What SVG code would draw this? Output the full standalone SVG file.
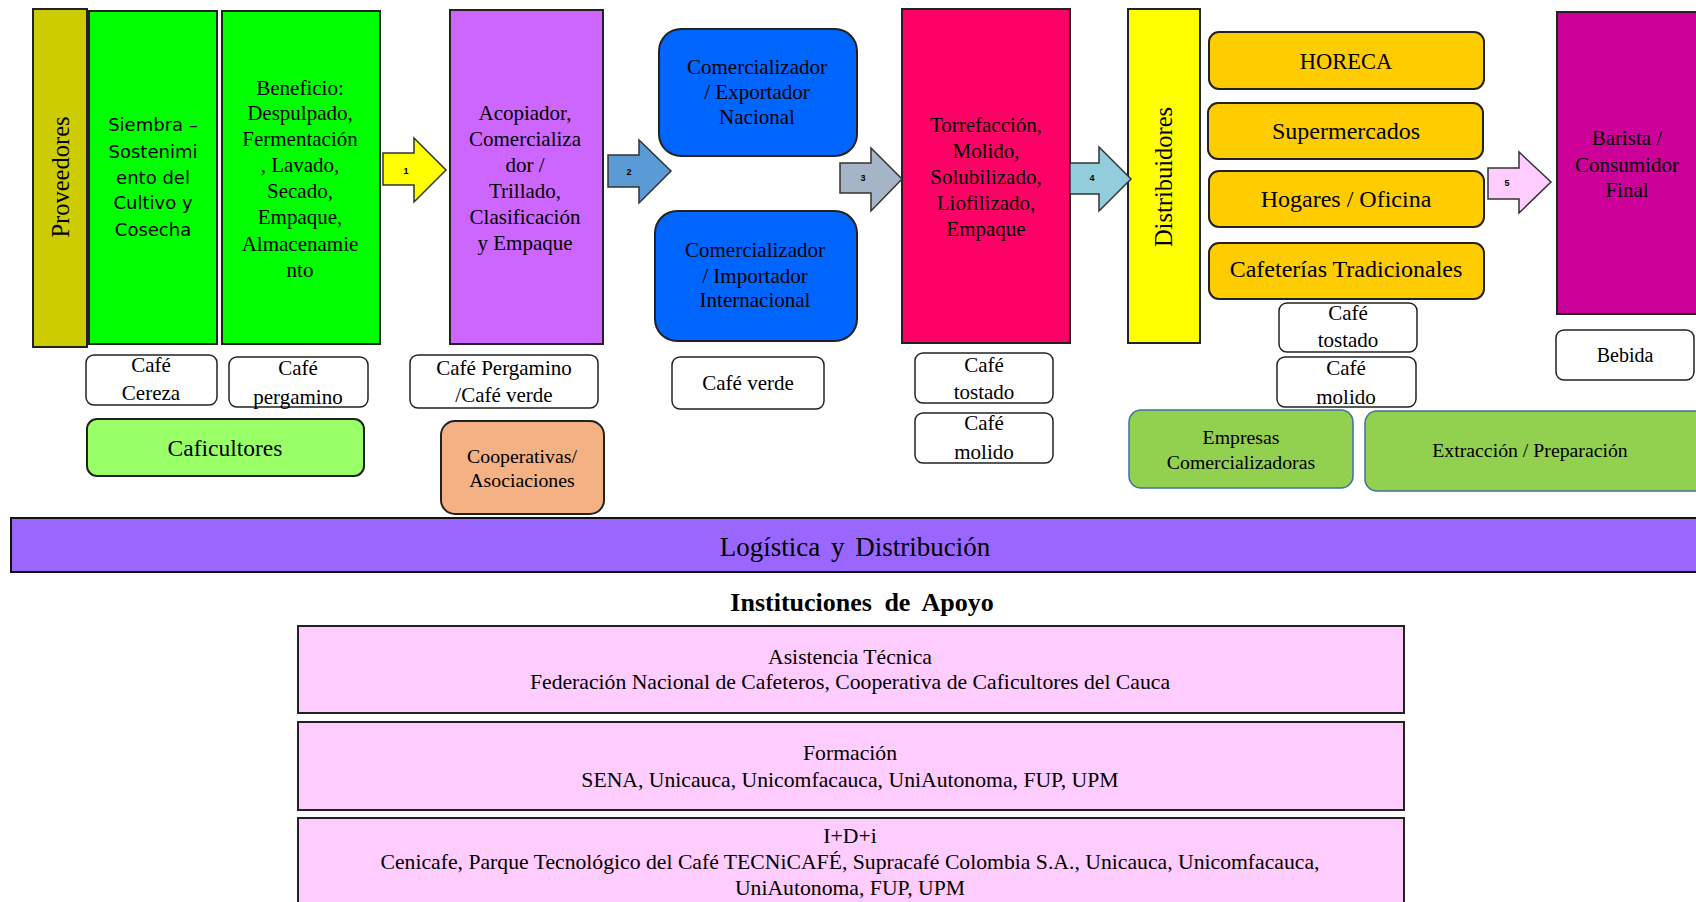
<svg xmlns="http://www.w3.org/2000/svg" width="1696" height="902" viewBox="0 0 1696 902">
<style>
.box{stroke:#222;stroke-width:2}
.pill{fill:#fff;stroke:#222;stroke-width:1.5}
.t{font-family:"Liberation Serif","Times New Roman",serif;font-size:21px;text-anchor:middle;fill:#000}
.s{font-family:"DejaVu Sans",Verdana,sans-serif;font-size:18px;text-anchor:middle;fill:#000}
.p{font-family:"Liberation Serif","Times New Roman",serif;font-size:21px;text-anchor:middle;fill:#000}
.m{font-family:"Liberation Serif","Times New Roman",serif;font-size:19.8px;text-anchor:middle;fill:#000}
.b{font-family:"Liberation Serif","Times New Roman",serif;font-size:21.7px;text-anchor:middle;fill:#000}
.v{font-family:"Liberation Serif","Times New Roman",serif;font-size:24.5px;text-anchor:middle;fill:#000}
.y{font-family:"Liberation Serif","Times New Roman",serif;font-size:24px;text-anchor:middle;fill:#000}
.arr{stroke:#333;stroke-width:1.5}
.n{font-family:"Liberation Sans",Arial,sans-serif;font-size:9px;font-weight:bold;text-anchor:middle;fill:#000}
.inst{fill:#FFCCFF;stroke:#222;stroke-width:2}
</style>

<g id="proveedores">
<rect class="box" x="33" y="9" width="54" height="338" fill="#CCCC00"/>
<text class="v" transform="translate(69,177) rotate(-90)">Proveedores</text>
</g>

<g id="siembra">
<rect class="box" x="89" y="11" width="128" height="333" fill="#00FF00"/>
<text class="s" x="153" y="131">Siembra –</text>
<text class="s" x="153" y="158">Sostenimi</text>
<text class="s" x="153" y="184">ento del</text>
<text class="s" x="153" y="209">Cultivo y</text>
<text class="s" x="153" y="236">Cosecha</text>
</g>

<g id="beneficio">
<rect class="box" x="222" y="11" width="158" height="333" fill="#00FF00"/>
<text class="t" x="300" y="95">Beneficio:</text>
<text class="t" x="300" y="120">Despulpado,</text>
<text class="t" x="300" y="146">Fermentación</text>
<text class="t" x="300" y="172">, Lavado,</text>
<text class="t" x="300" y="198">Secado,</text>
<text class="t" x="300" y="224">Empaque,</text>
<text class="t" x="300" y="251">Almacenamie</text>
<text class="t" x="300" y="277">nto</text>
</g>

<g id="acopiador">
<rect class="box" x="450" y="10" width="153" height="334" fill="#CC66FF"/>
<text class="t" x="525" y="120">Acopiador,</text>
<text class="t" x="525" y="146">Comercializa</text>
<text class="t" x="525" y="172">dor /</text>
<text class="t" x="525" y="198">Trillado,</text>
<text class="t" x="525" y="224">Clasificación</text>
<text class="t" x="525" y="250">y Empaque</text>
</g>

<g id="exportador">
<rect class="box" x="659" y="29" width="198" height="127" rx="22" fill="#0066FF"/>
<text class="t" x="757" y="74">Comercializador</text>
<text class="t" x="757" y="99">/ Exportador</text>
<text class="t" x="757" y="124">Nacional</text>
</g>

<g id="importador">
<rect class="box" x="655" y="211" width="202" height="130" rx="22" fill="#0066FF"/>
<text class="t" x="755" y="257">Comercializador</text>
<text class="t" x="755" y="283">/ Importador</text>
<text class="t" x="755" y="307">Internacional</text>
</g>

<g id="torrefaccion">
<rect class="box" x="902" y="9" width="168" height="334" fill="#FF0066"/>
<text class="t" x="986" y="132">Torrefacción,</text>
<text class="t" x="986" y="158">Molido,</text>
<text class="t" x="986" y="184">Solubilizado,</text>
<text class="t" x="986" y="210">Liofilizado,</text>
<text class="t" x="986" y="236">Empaque</text>
</g>

<g id="distribuidores">
<rect class="box" x="1128" y="9" width="72" height="334" fill="#FFFF00"/>
<text class="v" transform="translate(1172,177) rotate(-90)">Distribuidores</text>
</g>

<g id="horeca">
<rect class="box" x="1209" y="32" width="275" height="57" rx="10" fill="#FFCC00"/>
<text class="y" x="1346" y="69" style="font-size:22.5px">HORECA</text>
</g>
<g id="supermercados">
<rect class="box" x="1208" y="103" width="275" height="56" rx="10" fill="#FFCC00"/>
<text class="y" x="1346" y="139">Supermercados</text>
</g>
<g id="hogares">
<rect class="box" x="1209" y="171" width="275" height="56" rx="10" fill="#FFCC00"/>
<text class="y" x="1346" y="207">Hogares / Oficina</text>
</g>
<g id="cafeterias">
<rect class="box" x="1209" y="243" width="275" height="56" rx="10" fill="#FFCC00"/>
<text class="y" x="1346" y="277">Cafeterías Tradicionales</text>
</g>

<g id="barista">
<rect class="box" x="1557" y="12" width="150" height="302" fill="#CC0099"/>
<text class="t" x="1627" y="145">Barista /</text>
<text class="t" x="1627" y="172">Consumidor</text>
<text class="t" x="1627" y="197">Final</text>
</g>

<g id="cafe-cereza">
<rect class="pill" x="86" y="355" width="131" height="50" rx="8"/>
<text class="p" x="151" y="372">Café</text>
<text class="p" x="151" y="400">Cereza</text>
</g>
<g id="cafe-pergamino">
<rect class="pill" x="229" y="357" width="139" height="50" rx="8"/>
<text class="p" x="298" y="375">Café</text>
<text class="p" x="298" y="404">pergamino</text>
</g>
<g id="cafe-pergamino-verde">
<rect class="pill" x="410" y="355" width="188" height="53" rx="8"/>
<text class="p" x="504" y="375">Café Pergamino</text>
<text class="p" x="504" y="402">/Café verde</text>
</g>
<g id="cafe-verde">
<rect class="pill" x="672" y="357" width="152" height="52" rx="8"/>
<text class="p" x="748" y="390">Café verde</text>
</g>
<g id="cafe-tostado-1">
<rect class="pill" x="915" y="353" width="138" height="50" rx="8"/>
<text class="p" x="984" y="372">Café</text>
<text class="p" x="984" y="399">tostado</text>
</g>
<g id="cafe-molido-1">
<rect class="pill" x="915" y="413" width="138" height="50" rx="8"/>
<text class="p" x="984" y="430">Café</text>
<text class="p" x="984" y="459">molido</text>
</g>
<g id="cafe-tostado-2">
<rect class="pill" x="1279" y="303" width="138" height="49" rx="8"/>
<text class="p" x="1348" y="320">Café</text>
<text class="p" x="1348" y="347">tostado</text>
</g>
<g id="cafe-molido-2">
<rect class="pill" x="1277" y="357" width="139" height="50" rx="8"/>
<text class="p" x="1346" y="375">Café</text>
<text class="p" x="1346" y="404">molido</text>
</g>
<g id="bebida">
<rect class="pill" x="1556" y="330" width="138" height="50" rx="8"/>
<text class="p" x="1625" y="362" style="font-size:20px">Bebida</text>
</g>

<g id="caficultores">
<rect class="box" x="87" y="419" width="277" height="57" rx="10" fill="#99FF66" stroke-width="1.5"/>
<text class="y" x="225" y="456" style="font-size:23.5px">Caficultores</text>
</g>
<g id="cooperativas">
<rect class="box" x="441" y="421" width="163" height="93" rx="14" fill="#F4B183" stroke-width="1.5"/>
<text class="m" x="522" y="463">Cooperativas/</text>
<text class="m" x="522" y="487">Asociaciones</text>
</g>
<g id="empresas">
<rect x="1129" y="410" width="224" height="78" rx="12" fill="#92D050" stroke="#41719C" stroke-width="1.5"/>
<text class="m" x="1241" y="444">Empresas</text>
<text class="m" x="1241" y="469">Comercializadoras</text>
</g>
<g id="extraccion">
<rect x="1365" y="411" width="345" height="80" rx="12" fill="#92D050" stroke="#41719C" stroke-width="1.5"/>
<text class="m" x="1530" y="457">Extracción / Preparación</text>
</g>

<g id="logistica">
<rect x="11" y="518" width="1700" height="54" fill="#9966FF" stroke="#111" stroke-width="2"/>
<text class="t" x="855" y="556" style="font-size:27px;word-spacing:4px">Logística y Distribución</text>
</g>

<g id="instituciones-titulo">
<text class="t" x="862" y="611" style="font-size:26px;font-weight:bold;word-spacing:6px">Instituciones de Apoyo</text>
</g>

<g id="asistencia">
<rect class="inst" x="298" y="626" width="1106" height="87"/>
<text class="b" x="850" y="664">Asistencia Técnica</text>
<text class="b" x="850" y="689">Federación Nacional de Cafeteros, Cooperativa de Caficultores del Cauca</text>
</g>
<g id="formacion">
<rect class="inst" x="298" y="722" width="1106" height="88"/>
<text class="b" x="850" y="760">Formación</text>
<text class="b" x="850" y="787">SENA, Unicauca, Unicomfacauca, UniAutonoma, FUP, UPM</text>
</g>
<g id="idi">
<rect class="inst" x="298" y="818" width="1106" height="92"/>
<text class="b" x="850" y="843">I+D+i</text>
<text class="b" x="850" y="869">Cenicafe, Parque Tecnológico del Café TECNiCAFÉ, Supracafé Colombia S.A., Unicauca, Unicomfacauca,</text>
<text class="b" x="850" y="895">UniAutonoma, FUP, UPM</text>
</g>

<g id="connectors">
<polygon class="arr" fill="#FFFF00" points="383,153 414,153 414,138 446,170 414,202 414,185 383,185"/>
<text class="n" x="406" y="174">1</text>
<polygon class="arr" fill="#5B9BD5" points="608,155 639,155 639,140 671,171 639,203 639,187 608,187"/>
<text class="n" x="629" y="175">2</text>
<polygon class="arr" fill="#A6B4C8" points="840,163 871,163 871,148 902,179 871,211 871,193 840,193"/>
<text class="n" x="863" y="181">3</text>
<polygon class="arr" fill="#92CDDC" points="1070,163 1099,163 1099,147 1131,179 1099,211 1099,194 1070,194"/>
<text class="n" x="1092" y="181">4</text>
<polygon class="arr" fill="#FFCCFF" points="1488,168 1519,168 1519,152 1551,182 1519,213 1519,199 1488,199"/>
<text class="n" x="1507" y="186">5</text>
</g>
</svg>
